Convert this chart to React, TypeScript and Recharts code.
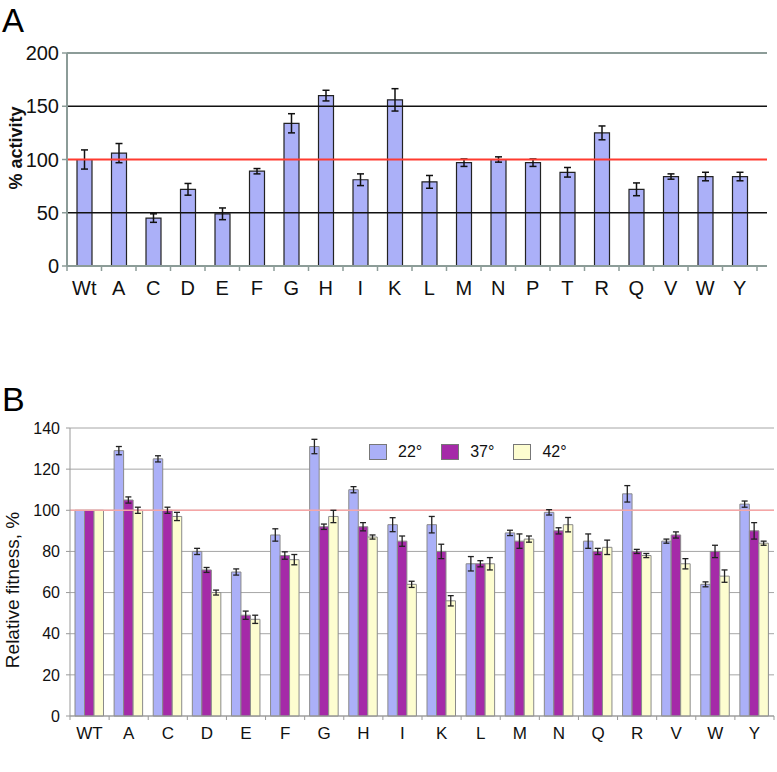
import React from 'react';
import { BarChart, Bar, XAxis, YAxis, ErrorBar, ReferenceLine, CartesianGrid, Legend, Label } from 'recharts';

const FONT = '"Liberation Sans", Arial, sans-serif';

// Panel A data
const residuesA = ['Wt', 'A', 'C', 'D', 'E', 'F', 'G', 'H', 'I', 'K', 'L', 'M', 'N', 'P', 'T', 'R', 'Q', 'V', 'W', 'Y'];
const activity = [100, 106, 45, 72, 49, 89, 134, 160, 81, 156, 79, 97, 100, 97, 88, 125, 72, 84, 84, 84];
const activityErr = [9, 9, 4, 5.5, 5.5, 2.5, 9, 5, 5.5, 10.5, 6, 3.5, 2.5, 3.5, 4.5, 6.5, 6, 2.5, 4, 4];
const ticksA = [0, 50, 100, 150, 200];

// Panel B data
const residuesB = ['WT', 'A', 'C', 'D', 'E', 'F', 'G', 'H', 'I', 'K', 'L', 'M', 'N', 'Q', 'R', 'V', 'W', 'Y'];
const fit22 = [100, 129, 125, 80, 70, 88, 131, 110, 93, 93, 74, 89, 99, 85, 108, 85, 64, 103];
const fit37 = [100, 105, 100, 71, 49, 78, 92, 92, 85, 80, 74, 85, 90, 80, 80, 88, 80, 90];
const fit42 = [100, 100, 97, 60, 47, 76, 97, 87, 64, 56, 74, 86, 93, 82, 78, 74, 68, 84];
const err22 = [null, 2, 1.5, 1.5, 1.5, 3, 3.5, 1.5, 3.4, 4, 3.5, 1.3, 1.3, 3.5, 4, 1, 1.2, 1.5];
const err37 = [null, 1.5, 1.5, 1.2, 2, 1.8, 1.3, 2, 2.5, 3.5, 1.5, 3.5, 1.5, 1.5, 1, 1.5, 3, 4];
const err42 = [null, 1.5, 2, 1.2, 2, 2.5, 3, 1, 1.5, 2.5, 3, 1.5, 3.5, 3.5, 1, 2.5, 3, 1];
const ticksB = [0, 20, 40, 60, 80, 100, 120, 140];
const seriesB = [
  { key: 't22', name: '22°', color: '#abb0f8' },
  { key: 't37', name: '37°', color: '#a52aa8' },
  { key: 't42', name: '42°', color: '#fdfdd0' },
];

const dataA = residuesA.map((r, i) => ({ name: r, value: activity[i], err: activityErr[i] }));
const dataB = residuesB.map((r, i) => ({
  name: r,
  t22: fit22[i], t37: fit37[i], t42: fit42[i],
  e22: err22[i], e37: err37[i], e42: err42[i],
}));

const BAND_A = 34.5;
const BAND_B = 704 / 18;

function TickA(props: any) {
  const { x, y, payload, index } = props;
  return (
    <g>
      <line x1={x - BAND_A / 2} x2={x - BAND_A / 2} y1={y} y2={y + 5} stroke="#8c9c98" strokeWidth={1.5} />
      {index === residuesA.length - 1 && (
        <line x1={x + BAND_A / 2} x2={x + BAND_A / 2} y1={y} y2={y + 5} stroke="#8c9c98" strokeWidth={1.5} />
      )}
      <text x={x} y={y + 29} textAnchor="middle" fontSize={20} fontFamily={FONT} fill="#111">{payload.value}</text>
    </g>
  );
}

function TickB(props: any) {
  const { x, y, payload, index } = props;
  return (
    <g>
      <line x1={x - BAND_B / 2} x2={x - BAND_B / 2} y1={y} y2={y + 4} stroke="#999" strokeWidth={1} />
      {index === residuesB.length - 1 && (
        <line x1={x + BAND_B / 2} x2={x + BAND_B / 2} y1={y} y2={y + 4} stroke="#999" strokeWidth={1} />
      )}
      <text x={x} y={y + 23} textAnchor="middle" fontSize={17} fontFamily={FONT} fill="#111">{payload.value}</text>
    </g>
  );
}

function LegendB() {
  return (
    <div style={{ display: 'flex', alignItems: 'center', fontFamily: FONT, fontSize: 16, color: '#111' }}>
      {seriesB.map((s) => (
        <div key={s.key} style={{ display: 'flex', alignItems: 'center', marginRight: 19 }}>
          <div style={{ width: 16, height: 14, background: s.color, border: '1px solid #777', marginRight: 11 }} />
          <span>{s.name}</span>
        </div>
      ))}
    </div>
  );
}

export default function App() {
  return (
    <div style={{ position: 'absolute', left: 0, top: 0, width: 777, height: 772, background: '#fff' }}>
      <div style={{ position: 'absolute', left: 2, top: 4, fontFamily: FONT, fontSize: 33, lineHeight: 1 }}>A</div>
      <div style={{ position: 'absolute', left: 2, top: 382, fontFamily: FONT, fontSize: 34, lineHeight: 1 }}>B</div>

      <div style={{ position: 'absolute', left: 0, top: 0 }}>
        <BarChart width={777} height={330} data={dataA} margin={{ top: 53, right: 10, bottom: 34, left: 0 }}>
          <XAxis dataKey="name" padding={{ left: 0, right: 10 }} tickSize={0} tickMargin={0} tickLine={false}
            axisLine={{ stroke: '#8c9c98', strokeWidth: 2 }} tick={<TickA />} interval={0} />
          <YAxis width={67} domain={[0, 200]} ticks={ticksA} tickSize={5} tickMargin={3}
            axisLine={{ stroke: '#8c9c98', strokeWidth: 2 }} tickLine={{ stroke: '#8c9c98', strokeWidth: 1.5 }}
            tick={{ fontSize: 20, fill: '#111', fontFamily: FONT }}
            label={<Label content={() => (
              <text x={16} y={148} transform="rotate(-90 16 148)" textAnchor="middle" dominantBaseline="central"
                fontSize={18} fontWeight="bold" fontFamily={FONT} fill="#111">% activity</text>
            )} />} />
          <YAxis yAxisId="r" orientation="right" width={0} type="number" domain={[0, 1]} tick={false} tickLine={false}
            axisLine={{ stroke: '#8c9c98', strokeWidth: 2 }} />
          <ReferenceLine y={200} stroke="#8c9c98" strokeWidth={2} />
          <ReferenceLine y={150} stroke="#111" strokeWidth={1.5} />
          <ReferenceLine y={50} stroke="#111" strokeWidth={1.5} />
          <Bar dataKey="value" fill="#abb0f8" stroke="#222" strokeWidth={1.2} barSize={15} isAnimationActive={false}>
            <ErrorBar dataKey="err" width={3.5} stroke="#111" strokeWidth={1.5} />
          </Bar>
          <ReferenceLine y={100} stroke="#ff3b30" strokeWidth={2} />
        </BarChart>
      </div>

      <div style={{ position: 'absolute', left: 0, top: 330 }}>
        <BarChart width={777} height={442} data={dataB} margin={{ top: 98, right: 3, bottom: 26, left: 0 }}
          barGap={0} barCategoryGap={0}>
          <CartesianGrid vertical={false} stroke="#a6a6a6" strokeWidth={1} />
          <ReferenceLine y={100} stroke="#f5a6a6" strokeWidth={1.5} />
          <XAxis dataKey="name" tickSize={0} tickMargin={0} tickLine={false}
            axisLine={{ stroke: '#999', strokeWidth: 1 }} tick={<TickB />} interval={0} />
          <YAxis width={70} domain={[0, 140]} ticks={ticksB} tickSize={4} tickMargin={6}
            axisLine={{ stroke: '#999', strokeWidth: 1 }} tickLine={{ stroke: '#999' }}
            tick={{ fontSize: 16, fill: '#111', fontFamily: FONT }}
            label={<Label content={() => (
              <text x={12} y={260} transform="rotate(-90 12 260)" textAnchor="middle" dominantBaseline="central"
                fontSize={19} fontFamily={FONT} fill="#111">Relative fitness, %</text>
            )} />} />
          <YAxis yAxisId="r" orientation="right" width={0} type="number" domain={[0, 1]} tick={false} tickLine={false}
            axisLine={{ stroke: '#aaa', strokeWidth: 1.5 }} />
          <Legend layout="horizontal" verticalAlign="middle" align="center"
            wrapperStyle={{ position: 'absolute', left: 369, top: 113, width: 'auto' }} content={<LegendB />} />
          <Bar dataKey="t22" name="22°" fill={seriesB[0].color} stroke="#8a8a8a" strokeWidth={1} barSize={9.5} isAnimationActive={false}>
            <ErrorBar dataKey="e22" width={3} stroke="#222" strokeWidth={1.3} />
          </Bar>
          <Bar dataKey="t37" name="37°" fill={seriesB[1].color} stroke="#8a8a8a" strokeWidth={1} barSize={9.5} isAnimationActive={false}>
            <ErrorBar dataKey="e37" width={3} stroke="#222" strokeWidth={1.3} />
          </Bar>
          <Bar dataKey="t42" name="42°" fill={seriesB[2].color} stroke="#8a8a8a" strokeWidth={1} barSize={9.5} isAnimationActive={false}>
            <ErrorBar dataKey="e42" width={3} stroke="#222" strokeWidth={1.3} />
          </Bar>
        </BarChart>
      </div>
    </div>
  );
}
